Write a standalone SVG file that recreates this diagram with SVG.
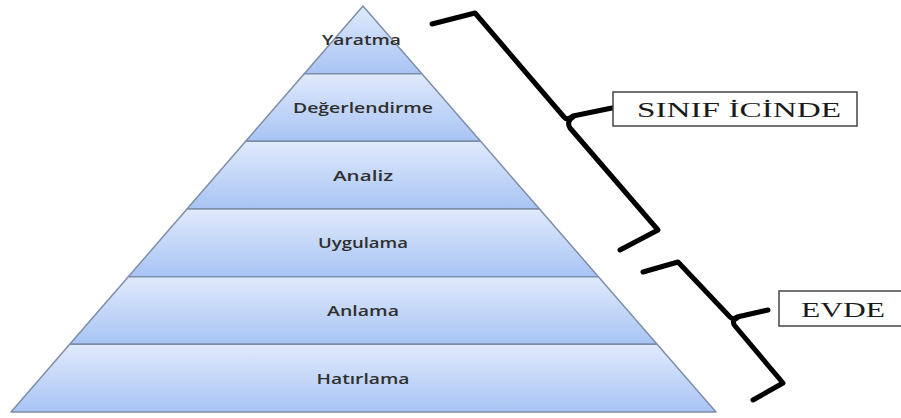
<svg xmlns="http://www.w3.org/2000/svg" width="901" height="418" viewBox="0 0 901 418">
<defs>
<linearGradient id="lg" x1="0" y1="0" x2="0" y2="1">
<stop offset="0" stop-color="#e0eafc"/>
<stop offset="1" stop-color="#a8c4f4"/>
</linearGradient>
</defs>
<style>
.layer{fill:url(#lg);stroke:#7f8ea8;stroke-width:1.5;stroke-linejoin:round}
.lbl{font-family:"Open Sans","DejaVu Sans",sans-serif;font-weight:600;font-size:13.5px;fill:#2f2f2f;text-anchor:middle}
.brace{fill:none;stroke:#000;stroke-width:5;stroke-linejoin:round;stroke-linecap:round}
.box{fill:#fff;stroke:#444;stroke-width:1.5}
.btxt{font-family:"Liberation Serif",serif;font-size:21px;fill:#1a1a1a}
</style>
<rect width="901" height="418" fill="#fff"/>
<g id="layer-yaratma">
<polygon class="layer" points="363,6 421.9,73.7 304.3,73.7"/>
<text class="lbl" x="361.5" y="45" textLength="79" lengthAdjust="spacingAndGlyphs">Yaratma</text>
</g>
<g id="layer-degerlendirme">
<polygon class="layer" points="304.3,73.7 421.9,73.7 480.6,141.3 245.7,141.3"/>
<text class="lbl" x="363" y="113" textLength="140" lengthAdjust="spacingAndGlyphs">Değerlendirme</text>
</g>
<g id="layer-analiz">
<polygon class="layer" points="245.7,141.3 480.6,141.3 539.5,209 187,209"/>
<text class="lbl" x="363" y="181" textLength="60" lengthAdjust="spacingAndGlyphs">Analiz</text>
</g>
<g id="layer-uygulama">
<polygon class="layer" points="187,209 539.5,209 598.4,276.7 128.3,276.7"/>
<text class="lbl" x="363" y="248" textLength="90" lengthAdjust="spacingAndGlyphs">Uygulama</text>
</g>
<g id="layer-anlama">
<polygon class="layer" points="128.3,276.7 598.4,276.7 657.1,344.3 69.7,344.3"/>
<text class="lbl" x="363" y="316" textLength="72" lengthAdjust="spacingAndGlyphs">Anlama</text>
</g>
<g id="layer-hatirlama">
<polygon class="layer" points="69.7,344.3 657.1,344.3 716,412 11,412"/>
<text class="lbl" x="363" y="384" textLength="93" lengthAdjust="spacingAndGlyphs">Hatırlama</text>
</g>
<g id="connectors">
<path class="brace" d="M432,24 L475,13 L564,117 Q567,121 573,116 L612,108"/>
<path class="brace" d="M573,117 Q566,121 570,128 L658,230 L620,250"/>
<path class="brace" d="M643,272 L678,262 L730,317 Q733,320 737,317 L768,310"/>
<path class="brace" d="M737,318 Q731,321 735,326 L783,383 L753,400"/>
</g>
<g id="box-sinif">
<rect class="box" x="613" y="92" width="244" height="34"/>
<text class="btxt" x="637" y="117" textLength="204" lengthAdjust="spacingAndGlyphs">SINIF İCİNDE</text>
</g>
<g id="box-evde">
<rect class="box" x="779" y="291" width="130" height="35"/>
<text class="btxt" x="801" y="317" textLength="84" lengthAdjust="spacingAndGlyphs">EVDE</text>
</g>
</svg>
